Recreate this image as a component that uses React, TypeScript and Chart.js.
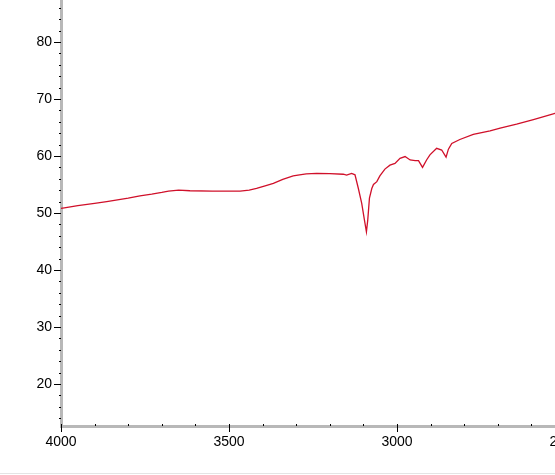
import React, { useEffect, useRef } from "react";
import { Chart, registerables } from "chart.js";

Chart.register(...registerables);

// Wavenumber (cm-1) and transmittance (%)
const wavenumbers = [
  4000, 3990, 3950, 3900, 3864, 3800, 3765, 3730, 3700, 3680, 3650, 3616, 3550, 3467, 3440, 3418,
  3390, 3368, 3340, 3309, 3290, 3270, 3239, 3200, 3160, 3150, 3135, 3125, 3115, 3105, 3097, 3091,
  3087, 3082, 3075, 3070, 3060, 3051, 3036, 3021, 3006, 2991, 2976, 2961, 2946, 2936, 2924, 2912,
  2902, 2882, 2867, 2854, 2847, 2837, 2813, 2773, 2723, 2693, 2644, 2594, 2535, 2500,
];
const transmittance = [
  50.8, 50.9, 51.3, 51.7, 52.0, 52.6, 53.0, 53.3, 53.6, 53.85, 54.0, 53.9, 53.85, 53.85, 54.0, 54.3,
  54.8, 55.2, 55.9, 56.5, 56.7, 56.85, 56.95, 56.9, 56.8, 56.65, 56.95, 56.7, 54.3, 51.7, 48.8, 46.7,
  48.8, 52.6, 54.3, 55.0, 55.5, 56.5, 57.7, 58.4, 58.7, 59.6, 59.9, 59.3, 59.2, 59.2, 58.0, 59.3,
  60.2, 61.35, 61.05, 59.8, 61.2, 62.2, 62.9, 63.8, 64.4, 64.9, 65.6, 66.4, 67.4, 68.0,
];
const yTickValues = [14, 16, 18, 20, 22, 24, 26, 28, 30, 32, 34, 36, 38, 40, 42, 44, 46, 48, 50, 52, 54, 56, 58, 60, 62, 64, 66, 68, 70, 72, 74, 76, 78, 80, 82, 84, 86];
const xTickValues = [4000, 3900, 3800, 3700, 3600, 3500, 3400, 3300, 3200, 3100, 3000, 2900, 2800, 2700, 2600, 2500];
const yLabels = [20, 30, 40, 50, 60, 70, 80];
const xLabels = [4000, 3500, 3000, 2500];

const tickMarks = {
  id: "tickMarks",
  afterDraw(chart: any) {
    const ctx = chart.ctx;
    const xs = chart.scales.x;
    const ys = chart.scales.y;
    const area = chart.chartArea;
    ctx.save();
    ctx.strokeStyle = "#000";
    ctx.lineWidth = 1;
    yTickValues.forEach((v) => {
      const py = Math.round(ys.getPixelForValue(v)) + 0.5;
      ctx.beginPath();
      if (v % 10 === 0) {
        ctx.moveTo(area.left - 7, py);
        ctx.lineTo(area.left, py);
      } else {
        ctx.moveTo(area.left - 2, py);
        ctx.lineTo(area.left, py);
      }
      ctx.stroke();
    });
    xTickValues.forEach((v) => {
      const px = Math.round(xs.getPixelForValue(v)) + 0.5;
      ctx.beginPath();
      if (v % 500 === 0) {
        ctx.moveTo(px, area.bottom - 2);
        ctx.lineTo(px, area.bottom + 6);
      } else {
        ctx.moveTo(px, area.bottom - 2);
        ctx.lineTo(px, area.bottom);
      }
      ctx.stroke();
    });
    ctx.restore();
  },
};

export default function App() {
  const ref = useRef<HTMLCanvasElement | null>(null);
  useEffect(() => {
    if (!ref.current) return;
    const points = wavenumbers.map((w, i) => ({ x: w, y: transmittance[i] }));
    const chart = new Chart(ref.current, {
      type: "line",
      data: {
        datasets: [
          {
            data: points,
            borderColor: "#d0102a",
            borderWidth: 1.3,
            pointRadius: 0,
            tension: 0,
            fill: false,
          },
        ],
      },
      options: {
        animation: false,
        responsive: false,
        devicePixelRatio: 1,
        layout: { padding: { top: 0, right: 35, left: 0, bottom: 0 } },
        plugins: { legend: { display: false }, tooltip: { enabled: false } },
        scales: {
          x: {
            type: "linear",
            reverse: true,
            min: 2500,
            max: 4000,
            afterFit: (s: any) => {
              s.height = 49;
              s.paddingLeft = 0;
              s.paddingRight = 0;
            },
            afterBuildTicks: (s: any) => {
              s.ticks = xLabels.map((v) => ({ value: v }));
            },
            grid: { display: false, drawTicks: false, tickLength: 0 },
            border: { display: true, color: "#b8b8b8", width: 3 },
            ticks: {
              padding: 8,
              maxRotation: 0,
              autoSkip: false,
              color: "#000",
              font: { family: "Liberation Sans", size: 14 },
              callback: (v: any) => String(v),
            },
          },
          y: {
            type: "linear",
            min: 12.63,
            max: 87.37,
            afterFit: (s: any) => {
              s.width = 61;
              s.paddingTop = 0;
              s.paddingBottom = 0;
            },
            afterBuildTicks: (s: any) => {
              s.ticks = yLabels.map((v) => ({ value: v }));
            },
            grid: { display: false, drawTicks: false, tickLength: 0 },
            border: { display: true, color: "#b8b8b8", width: 3 },
            ticks: {
              padding: 9,
              autoSkip: false,
              color: "#000",
              font: { family: "Liberation Sans", size: 14 },
              callback: (v: any) => String(v),
            },
          },
        },
      },
      plugins: [tickMarks],
    });
    return () => chart.destroy();
  }, []);
  return (
    <div style={{ position: "fixed", left: 0, top: 0, width: 555, height: 475, overflow: "hidden", background: "#fff" }}>
      <canvas ref={ref} width={600} height={475} style={{ display: "block", width: 600, height: 475 }} />
      <div style={{ position: "absolute", left: 0, top: 473, width: 555, height: 1, background: "#e4e4e4" }} />
    </div>
  );
}
